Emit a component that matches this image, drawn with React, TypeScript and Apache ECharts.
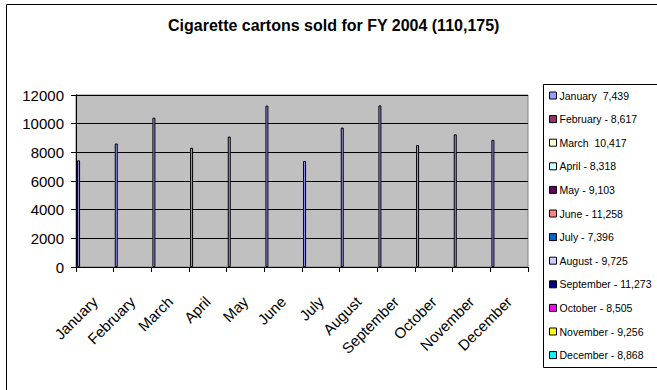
import React, { useEffect, useRef } from "react";
import * as echarts from "echarts";

const months = [
  "January", "February", "March", "April", "May", "June",
  "July", "August", "September", "October", "November", "December",
];
const cartons = [7439, 8617, 10417, 8318, 9103, 11258, 7396, 9725, 11273, 8505, 9256, 8868];
const legendLabels = [
  "January  7,439", "February - 8,617", "March  10,417", "April - 8,318",
  "May - 9,103", "June - 11,258", "July - 7,396", "August - 9,725",
  "September - 11,273", "October - 8,505", "November - 9,256", "December - 8,868",
];
const legendColors = [
  "#9999FF", "#993366", "#FFFFCC", "#CCFFFF", "#660066", "#FF8080",
  "#0066CC", "#CCCCFF", "#000080", "#FF00FF", "#FFFF00", "#00FFFF",
];
const yTicks = { min: 0, max: 12000, interval: 2000 };
const titleText = "Cigarette cartons sold for FY 2004 (110,175)";

const FONT = 'Arial, "Liberation Sans", sans-serif';

export default function App() {
  const ref = useRef<HTMLDivElement>(null);
  useEffect(() => {
    if (!ref.current) return;
    const chart = echarts.init(ref.current, null, { renderer: "svg" });
    const legendSeries = legendLabels.map((name, i) => ({
      name,
      type: "line" as const,
      data: [] as number[],
      color: legendColors[i],
      itemStyle: { color: legendColors[i] },
    }));
    chart.setOption({
      animation: false,
      backgroundColor: "#ffffff",
      title: {
        text: titleText,
        left: 168,
        top: 17,
        padding: 0,
        textStyle: { fontFamily: FONT, fontSize: 16, fontWeight: "bold", color: "#000" },
      },
      graphic: [
        {
          type: "rect",
          shape: { x: 6.5, y: 4.5, width: 700, height: 450 },
          style: { fill: "none", stroke: "#000", lineWidth: 1 },
          silent: true,
        },
        {
          type: "rect",
          shape: { x: 543.5, y: 84.5, width: 200, height: 283 },
          style: { fill: "none", stroke: "#000", lineWidth: 1 },
          silent: true,
        },
      ],
      legend: {
        data: legendLabels,
        orient: "vertical",
        left: 549,
        top: 90,
        padding: 0,
        icon: "rect",
        itemWidth: 7,
        itemHeight: 7,
        itemGap: 12.6,
        itemStyle: { borderColor: "#000", borderWidth: 1 },
        textStyle: { fontFamily: FONT, fontSize: 10.5, color: "#000", padding: [0, 0, 0, -2] },
        selectedMode: false,
      },
      grid: {
        left: 76,
        right: 129,
        top: 95,
        bottom: 123,
        show: true,
        backgroundColor: "#C0C0C0",
        borderColor: "#808080",
        borderWidth: 1,
      },
      xAxis: {
        type: "category",
        data: months,
        boundaryGap: true,
        axisLine: { show: true, lineStyle: { color: "#000", width: 1 } },
        axisTick: { show: true, length: 5, alignWithLabel: false, lineStyle: { color: "#000" } },
        axisLabel: {
          rotate: 45,
          margin: 32,
          interval: 0,
          fontFamily: FONT,
          fontSize: 15,
          color: "#000",
        },
        splitLine: { show: false },
      },
      yAxis: {
        type: "value",
        min: yTicks.min,
        max: yTicks.max,
        interval: yTicks.interval,
        axisLine: { show: true, lineStyle: { color: "#000", width: 1 } },
        axisTick: { show: true, length: 5, lineStyle: { color: "#000" } },
        axisLabel: {
          margin: 12,
          fontFamily: FONT,
          fontSize: 15,
          color: "#000",
          formatter: (v: number) => String(v),
        },
        splitLine: { show: true, lineStyle: { color: "#000", width: 1 } },
      },
      series: [
        {
          name: "Cartons",
          type: "bar",
          data: cartons,
          barWidth: 3,
          barGap: "0%",
          itemStyle: { color: "#9999FF", borderColor: "#000", borderWidth: 1 },
        },
        {
          name: "spacer",
          type: "bar",
          data: months.map(() => 0),
          barWidth: 32.5,
          barGap: "0%",
          itemStyle: { opacity: 0 },
          silent: true,
        },
        ...legendSeries,
      ],
    });
    return () => chart.dispose();
  }, []);
  return (
    <div
      ref={ref}
      style={{ position: "fixed", left: 0, top: 0, width: 657, height: 390, background: "#fff" }}
    />
  );
}
